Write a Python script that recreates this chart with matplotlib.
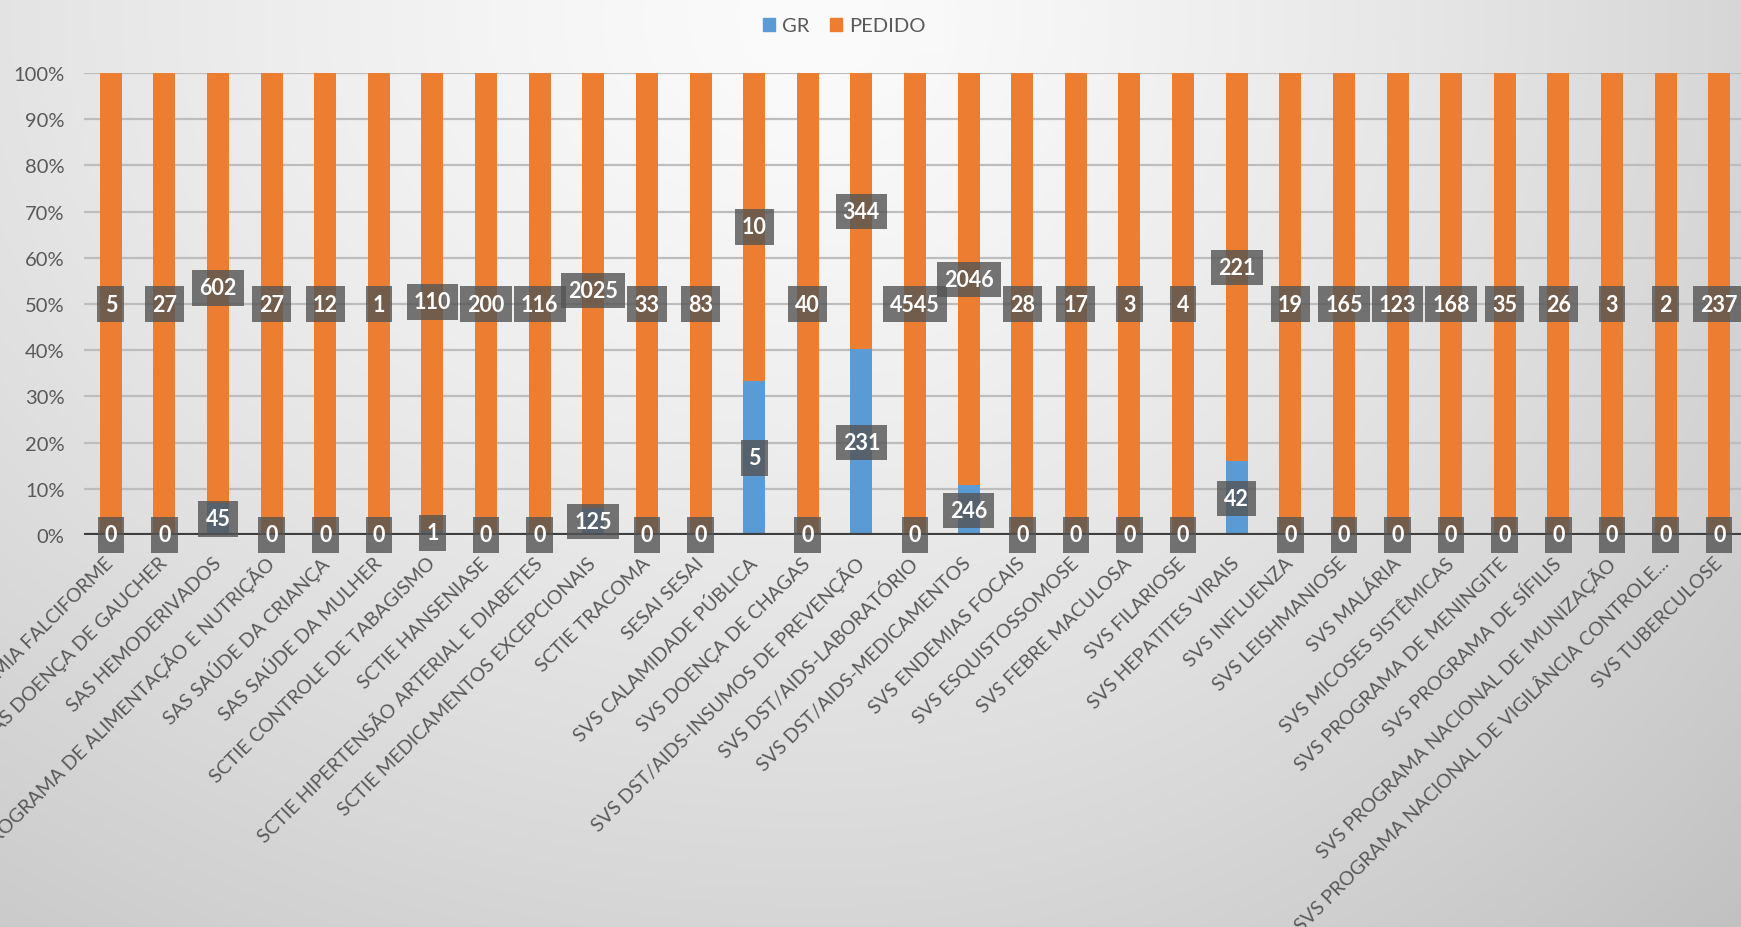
import numpy as np
import matplotlib
matplotlib.use('Agg')
import matplotlib.pyplot as plt
from matplotlib.patches import Patch

categories = [
    "SAS ANEMIA FALCIFORME",
    "SAS DOENÇA DE GAUCHER",
    "SAS HEMODERIVADOS",
    "SAS PROGRAMA DE ALIMENTAÇÃO E NUTRIÇÃO",
    "SAS SAÚDE DA CRIANÇA",
    "SAS SAÚDE DA MULHER",
    "SCTIE CONTROLE DE TABAGISMO",
    "SCTIE HANSENIASE",
    "SCTIE HIPERTENSÃO ARTERIAL E DIABETES",
    "SCTIE MEDICAMENTOS EXCEPCIONAIS",
    "SCTIE TRACOMA",
    "SESAI SESAI",
    "SVS CALAMIDADE PÚBLICA",
    "SVS DOENÇA DE CHAGAS",
    "SVS DST/AIDS-INSUMOS DE PREVENÇÃO",
    "SVS DST/AIDS-LABORATÓRIO",
    "SVS DST/AIDS-MEDICAMENTOS",
    "SVS ENDEMIAS FOCAIS",
    "SVS ESQUISTOSSOMOSE",
    "SVS FEBRE MACULOSA",
    "SVS FILARIOSE",
    "SVS HEPATITES VIRAIS",
    "SVS INFLUENZA",
    "SVS LEISHMANIOSE",
    "SVS MALÁRIA",
    "SVS MICOSES SISTÊMICAS",
    "SVS PROGRAMA DE MENINGITE",
    "SVS PROGRAMA DE SÍFILIS",
    "SVS PROGRAMA NACIONAL DE IMUNIZAÇÃO",
    "SVS PROGRAMA NACIONAL DE VIGILÂNCIA CONTROLE...",
    "SVS TUBERCULOSE",
]
gr = [0, 0, 45, 0, 0, 0, 1, 0, 0, 125, 0, 0, 5, 0, 231, 0, 246,
      0, 0, 0, 0, 42, 0, 0, 0, 0, 0, 0, 0, 0, 0]
pedido = [5, 27, 602, 27, 12, 1, 110, 200, 116, 2025, 33, 83, 10, 40, 344, 4545, 2046,
          28, 17, 3, 4, 221, 19, 165, 123, 168, 35, 26, 3, 2, 237]
ytick_labels = ["0%", "10%", "20%", "30%", "40%", "50%", "60%", "70%", "80%", "90%", "100%"]
series_names = ["GR", "PEDIDO"]

plt.rcParams['font.family'] = ['Lato', 'DejaVu Sans']

W, H = 1741, 928
fig = plt.figure(figsize=(W / 100, H / 100), dpi=100)

# background gradient
bg = fig.add_axes([0, 0, 1, 1], zorder=-10)
yy, xx = np.mgrid[0:H, 0:W]
xn = xx / W
yn = yy / H
cx, cy = 0.47, 0.02
dx = np.where(xn < cx, (xn - cx) / 0.75, (xn - cx) / 0.6)
dy = (yn - cy) / 1.1
d = np.sqrt(dx ** 2 + dy ** 2)
val = 0.985 - 0.17 * np.clip(d, 0, 1.5) ** 1.3
img = np.dstack([val, val, val])
bg.imshow(img, aspect='auto', extent=[0, 1, 0, 1], origin='upper')
bg.set_axis_off()

left = 84 / W
right = 1746 / W
bottom = (H - 536) / H
top = (H - 74) / H
ax = fig.add_axes([left, bottom, right - left, top - bottom])
ax.set_facecolor('none')

gr_a = np.array(gr, dtype=float)
pe_a = np.array(pedido, dtype=float)
tot = gr_a + pe_a
gr_f = gr_a / tot
pe_f = pe_a / tot
x = np.arange(len(categories))

blue = '#5B9BD5'
orange = '#ED7D31'
ax.bar(x, gr_f, width=0.41, color=blue, zorder=2, edgecolor='none')
ax.bar(x, pe_f, width=0.41, bottom=gr_f, color=orange, zorder=2, edgecolor='none')

for yv in np.arange(0.1, 1.01, 0.1):
    ax.axhline(yv, color='#bdbdbd', lw=1.6, zorder=1)
ax.axhline(0, color='#3f3f3f', lw=3, zorder=3)

box = dict(boxstyle='square,pad=0.33', fc='#545454', ec='none', alpha=0.8)
for i in range(len(x)):
    ax.text(x[i], gr_f[i] / 2, str(gr[i]), ha='center', va='center', color='white',
            fontsize=15.5, fontweight='bold', bbox=box, zorder=5)
    ax.text(x[i], gr_f[i] + pe_f[i] / 2, str(pedido[i]), ha='center', va='center',
            color='white', fontsize=15.5, fontweight='bold', bbox=box, zorder=5)

ax.set_xlim(-0.5, len(categories) - 0.5)
ax.set_ylim(0, 1)
ax.set_yticks(np.linspace(0, 1, 11))
ax.set_yticklabels(ytick_labels, color='#595959', fontsize=14.5)
ax.set_xticks(x)
ax.set_xticklabels(categories, rotation=45, ha='right', va='center',
                   rotation_mode='anchor', color='#595959', fontsize=14)
ax.tick_params(axis='y', length=0, pad=14)
ax.tick_params(axis='x', length=0, pad=18)
for s in ax.spines.values():
    s.set_visible(False)

handles = [Patch(color=blue), Patch(color=orange)]
leg = fig.legend(handles, series_names, loc='upper center', bbox_to_anchor=(0.485, 1.003),
                 ncol=2, frameon=True, fontsize=14.5, handlelength=0.6, handleheight=0.6,
                 columnspacing=1.0, handletextpad=0.35, borderpad=0.55)
leg.get_frame().set_facecolor('#fafafa')
leg.get_frame().set_alpha(0.6)
leg.get_frame().set_edgecolor('none')
leg.get_frame().set_boxstyle('square')
for t in leg.get_texts():
    t.set_color('#595959')

fig.savefig('out.png', dpi=100)
